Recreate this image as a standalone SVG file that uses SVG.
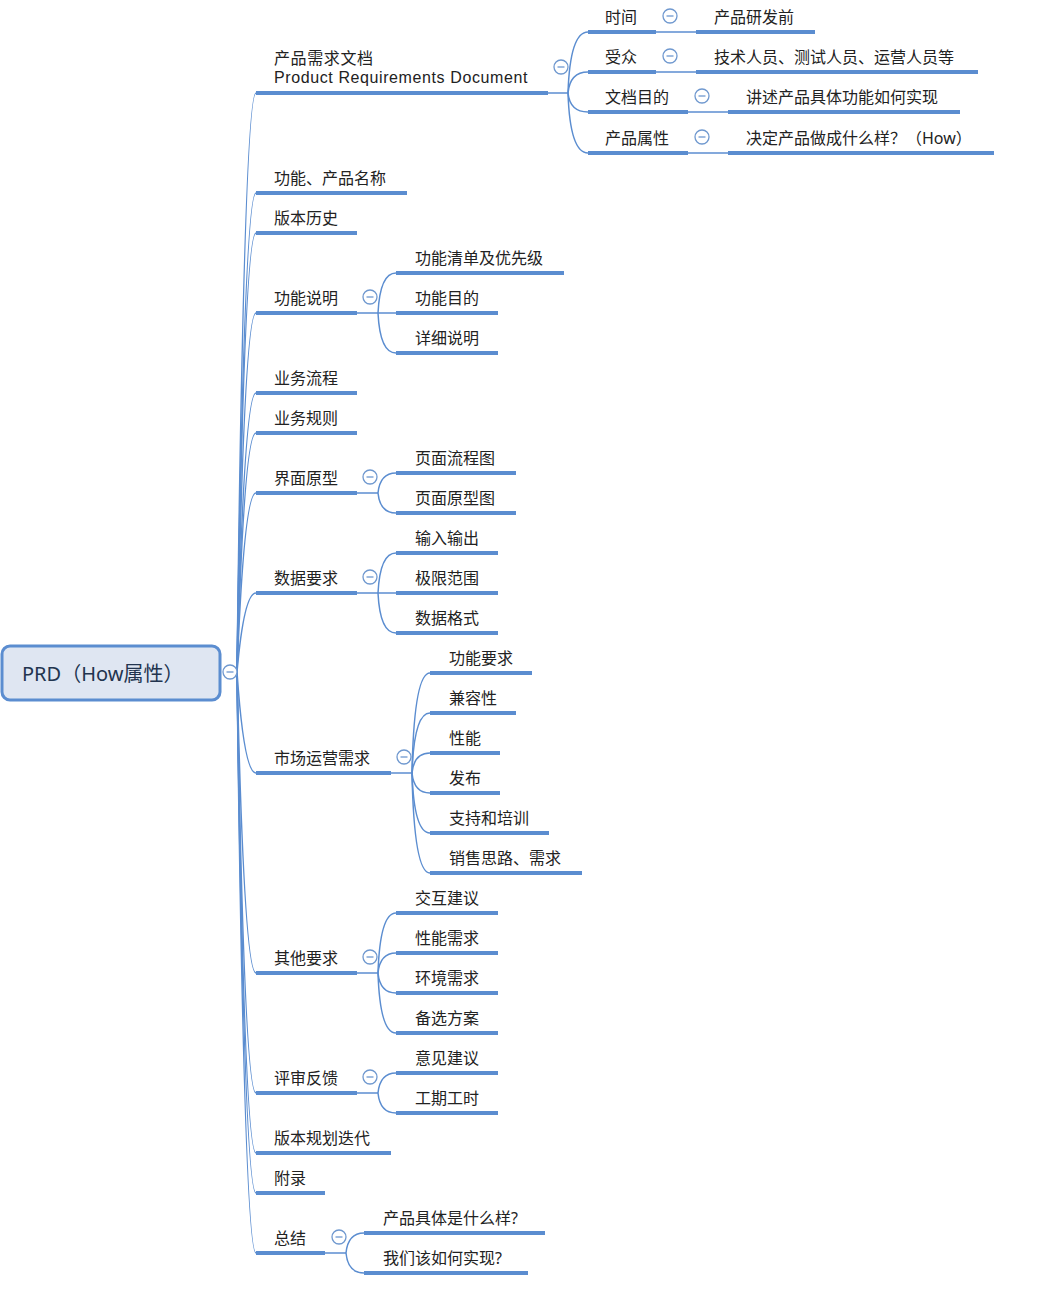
<svg xmlns="http://www.w3.org/2000/svg" xmlns:xlink="http://www.w3.org/1999/xlink" width="1038" height="1300" viewBox="0 0 1038 1300">
<style>
.u{stroke:#5b8dd0;stroke-width:4;fill:none}
.c{stroke:#5b8dd0;stroke-width:1.5;fill:none}
.t{font-family:"Noto Sans","Noto Sans CJK SC",sans-serif;font-size:16px;fill:#222}
.e{font-family:"Liberation Sans","Noto Sans CJK SC",sans-serif;font-size:16px;letter-spacing:0.6px;fill:#222}
.r{font-family:"Noto Sans","Noto Sans CJK SC",sans-serif;font-size:20px;fill:#22344f}
</style>
<defs>
<g id="tog"><circle cx="0" cy="0" r="7" fill="#fff" stroke="#6f98cf" stroke-width="1.3"/><line x1="-3.5" y1="0" x2="3.5" y2="0" stroke="#6f98cf" stroke-width="1.3"/></g>
</defs>
<rect width="1038" height="1300" fill="#fff"/>

<g id="connectors">
<path class="c" d="M237,672 Q244,93 256,93"/>
<path class="c" d="M237,672 Q244,193 256,193"/>
<path class="c" d="M237,672 Q244,233 256,233"/>
<path class="c" d="M237,672 Q244,313 256,313"/>
<path class="c" d="M237,672 Q244,393 256,393"/>
<path class="c" d="M237,672 Q244,433 256,433"/>
<path class="c" d="M237,672 Q244,493 256,493"/>
<path class="c" d="M237,672 Q244,593 256,593"/>
<path class="c" d="M237,672 Q244,773 256,773"/>
<path class="c" d="M237,672 Q244,973 256,973"/>
<path class="c" d="M237,672 Q244,1093 256,1093"/>
<path class="c" d="M237,672 Q244,1153 256,1153"/>
<path class="c" d="M237,672 Q244,1193 256,1193"/>
<path class="c" d="M237,672 Q244,1253 256,1253"/>
<path class="c" d="M548,93 H568"/>
<path class="c" d="M568,93 Q570,32 588,32"/>
<path class="c" d="M568,93 Q570,72 588,72"/>
<path class="c" d="M568,93 Q570,112 588,112"/>
<path class="c" d="M568,93 Q570,153 588,153"/>
<path class="c" d="M656,32 H696"/>
<path class="c" d="M656,72 H696"/>
<path class="c" d="M688,112 H728"/>
<path class="c" d="M688,153 H728"/>
<path class="c" d="M357,313 H378"/>
<path class="c" d="M378,313 Q380,273 396,273"/>
<path class="c" d="M378,313 H396"/>
<path class="c" d="M378,313 Q380,353 396,353"/>
<path class="c" d="M357,493 H378"/>
<path class="c" d="M378,493 Q380,473 396,473"/>
<path class="c" d="M378,493 Q380,513 396,513"/>
<path class="c" d="M357,593 H378"/>
<path class="c" d="M378,593 Q380,553 396,553"/>
<path class="c" d="M378,593 H396"/>
<path class="c" d="M378,593 Q380,633 396,633"/>
<path class="c" d="M391,773 H412"/>
<path class="c" d="M412,773 Q414,673 430,673"/>
<path class="c" d="M412,773 Q414,713 430,713"/>
<path class="c" d="M412,773 Q414,753 430,753"/>
<path class="c" d="M412,773 Q414,793 430,793"/>
<path class="c" d="M412,773 Q414,833 430,833"/>
<path class="c" d="M412,773 Q414,873 430,873"/>
<path class="c" d="M357,973 H378"/>
<path class="c" d="M378,973 Q380,913 396,913"/>
<path class="c" d="M378,973 Q380,953 396,953"/>
<path class="c" d="M378,973 Q380,993 396,993"/>
<path class="c" d="M378,973 Q380,1033 396,1033"/>
<path class="c" d="M357,1093 H378"/>
<path class="c" d="M378,1093 Q380,1073 396,1073"/>
<path class="c" d="M378,1093 Q380,1113 396,1113"/>
<path class="c" d="M325,1253 H346"/>
<path class="c" d="M346,1253 Q348,1233 364,1233"/>
<path class="c" d="M346,1253 Q348,1273 364,1273"/>
</g>

<g id="root">
<rect x="2" y="646" width="218" height="54" rx="8" fill="#dfe6f2" stroke="#5b8dd0" stroke-width="3"/>
<text class="r" x="22" y="681">PRD（How属性）</text>
<use xlink:href="#tog" x="230" y="672"/>
</g>

<g id="n-prd"><line class="u" x1="256" y1="93" x2="548" y2="93"/><text class="e" x="274" y="64">产品需求文档</text><text class="e" x="274" y="83">Product Requirements Document</text><use xlink:href="#tog" x="561" y="67"/></g>
<g id="n-time"><line class="u" x1="588" y1="32" x2="656" y2="32"/><text class="t" x="605" y="23">时间</text><use xlink:href="#tog" x="670" y="16"/></g>
<g id="n-time-1"><line class="u" x1="696" y1="32" x2="815" y2="32"/><text class="t" x="714" y="23">产品研发前</text></g>
<g id="n-aud"><line class="u" x1="588" y1="72" x2="656" y2="72"/><text class="t" x="605" y="63">受众</text><use xlink:href="#tog" x="670" y="56"/></g>
<g id="n-aud-1"><line class="u" x1="696" y1="72" x2="978" y2="72"/><text class="t" x="714" y="63">技术人员、测试人员、运营人员等</text></g>
<g id="n-goal"><line class="u" x1="588" y1="112" x2="688" y2="112"/><text class="t" x="605" y="103">文档目的</text><use xlink:href="#tog" x="702" y="96"/></g>
<g id="n-goal-1"><line class="u" x1="728" y1="112" x2="960" y2="112"/><text class="t" x="746" y="103">讲述产品具体功能如何实现</text></g>
<g id="n-attr"><line class="u" x1="588" y1="153" x2="688" y2="153"/><text class="t" x="605" y="144">产品属性</text><use xlink:href="#tog" x="702" y="137"/></g>
<g id="n-attr-1"><line class="u" x1="728" y1="153" x2="994" y2="153"/><text class="t" x="746" y="144">决定产品做成什么样？（How）</text></g>

<g id="n-name"><line class="u" x1="256" y1="193" x2="407" y2="193"/><text class="t" x="274" y="184">功能、产品名称</text></g>
<g id="n-hist"><line class="u" x1="256" y1="233" x2="357" y2="233"/><text class="t" x="274" y="224">版本历史</text></g>

<g id="n-func"><line class="u" x1="256" y1="313" x2="357" y2="313"/><text class="t" x="274" y="304">功能说明</text><use xlink:href="#tog" x="370" y="297"/></g>
<g id="n-func-1"><line class="u" x1="396" y1="273" x2="564" y2="273"/><text class="t" x="415" y="264">功能清单及优先级</text></g>
<g id="n-func-2"><line class="u" x1="396" y1="313" x2="498" y2="313"/><text class="t" x="415" y="304">功能目的</text></g>
<g id="n-func-3"><line class="u" x1="396" y1="353" x2="498" y2="353"/><text class="t" x="415" y="344">详细说明</text></g>

<g id="n-flow"><line class="u" x1="256" y1="393" x2="357" y2="393"/><text class="t" x="274" y="384">业务流程</text></g>
<g id="n-rule"><line class="u" x1="256" y1="433" x2="357" y2="433"/><text class="t" x="274" y="424">业务规则</text></g>

<g id="n-ui"><line class="u" x1="256" y1="493" x2="357" y2="493"/><text class="t" x="274" y="484">界面原型</text><use xlink:href="#tog" x="370" y="477"/></g>
<g id="n-ui-1"><line class="u" x1="396" y1="473" x2="516" y2="473"/><text class="t" x="415" y="464">页面流程图</text></g>
<g id="n-ui-2"><line class="u" x1="396" y1="513" x2="516" y2="513"/><text class="t" x="415" y="504">页面原型图</text></g>

<g id="n-data"><line class="u" x1="256" y1="593" x2="357" y2="593"/><text class="t" x="274" y="584">数据要求</text><use xlink:href="#tog" x="370" y="577"/></g>
<g id="n-data-1"><line class="u" x1="396" y1="553" x2="498" y2="553"/><text class="t" x="415" y="544">输入输出</text></g>
<g id="n-data-2"><line class="u" x1="396" y1="593" x2="498" y2="593"/><text class="t" x="415" y="584">极限范围</text></g>
<g id="n-data-3"><line class="u" x1="396" y1="633" x2="498" y2="633"/><text class="t" x="415" y="624">数据格式</text></g>

<g id="n-mkt"><line class="u" x1="256" y1="773" x2="391" y2="773"/><text class="t" x="274" y="764">市场运营需求</text><use xlink:href="#tog" x="404" y="757"/></g>
<g id="n-mkt-1"><line class="u" x1="430" y1="673" x2="532" y2="673"/><text class="t" x="449" y="664">功能要求</text></g>
<g id="n-mkt-2"><line class="u" x1="430" y1="713" x2="516" y2="713"/><text class="t" x="449" y="704">兼容性</text></g>
<g id="n-mkt-3"><line class="u" x1="430" y1="753" x2="500" y2="753"/><text class="t" x="449" y="744">性能</text></g>
<g id="n-mkt-4"><line class="u" x1="430" y1="793" x2="500" y2="793"/><text class="t" x="449" y="784">发布</text></g>
<g id="n-mkt-5"><line class="u" x1="430" y1="833" x2="549" y2="833"/><text class="t" x="449" y="824">支持和培训</text></g>
<g id="n-mkt-6"><line class="u" x1="430" y1="873" x2="582" y2="873"/><text class="t" x="449" y="864">销售思路、需求</text></g>

<g id="n-other"><line class="u" x1="256" y1="973" x2="357" y2="973"/><text class="t" x="274" y="964">其他要求</text><use xlink:href="#tog" x="370" y="957"/></g>
<g id="n-other-1"><line class="u" x1="396" y1="913" x2="498" y2="913"/><text class="t" x="415" y="904">交互建议</text></g>
<g id="n-other-2"><line class="u" x1="396" y1="953" x2="498" y2="953"/><text class="t" x="415" y="944">性能需求</text></g>
<g id="n-other-3"><line class="u" x1="396" y1="993" x2="498" y2="993"/><text class="t" x="415" y="984">环境需求</text></g>
<g id="n-other-4"><line class="u" x1="396" y1="1033" x2="498" y2="1033"/><text class="t" x="415" y="1024">备选方案</text></g>

<g id="n-review"><line class="u" x1="256" y1="1093" x2="357" y2="1093"/><text class="t" x="274" y="1084">评审反馈</text><use xlink:href="#tog" x="370" y="1077"/></g>
<g id="n-review-1"><line class="u" x1="396" y1="1073" x2="498" y2="1073"/><text class="t" x="415" y="1064">意见建议</text></g>
<g id="n-review-2"><line class="u" x1="396" y1="1113" x2="498" y2="1113"/><text class="t" x="415" y="1104">工期工时</text></g>

<g id="n-plan"><line class="u" x1="256" y1="1153" x2="391" y2="1153"/><text class="t" x="274" y="1144">版本规划迭代</text></g>
<g id="n-appx"><line class="u" x1="256" y1="1193" x2="325" y2="1193"/><text class="t" x="274" y="1184">附录</text></g>

<g id="n-sum"><line class="u" x1="256" y1="1253" x2="325" y2="1253"/><text class="t" x="274" y="1244">总结</text><use xlink:href="#tog" x="339" y="1237"/></g>
<g id="n-sum-1"><line class="u" x1="364" y1="1233" x2="545" y2="1233"/><text class="t" x="383" y="1224">产品具体是什么样?</text></g>
<g id="n-sum-2"><line class="u" x1="364" y1="1273" x2="528" y2="1273"/><text class="t" x="383" y="1264">我们该如何实现?</text></g>
</svg>
